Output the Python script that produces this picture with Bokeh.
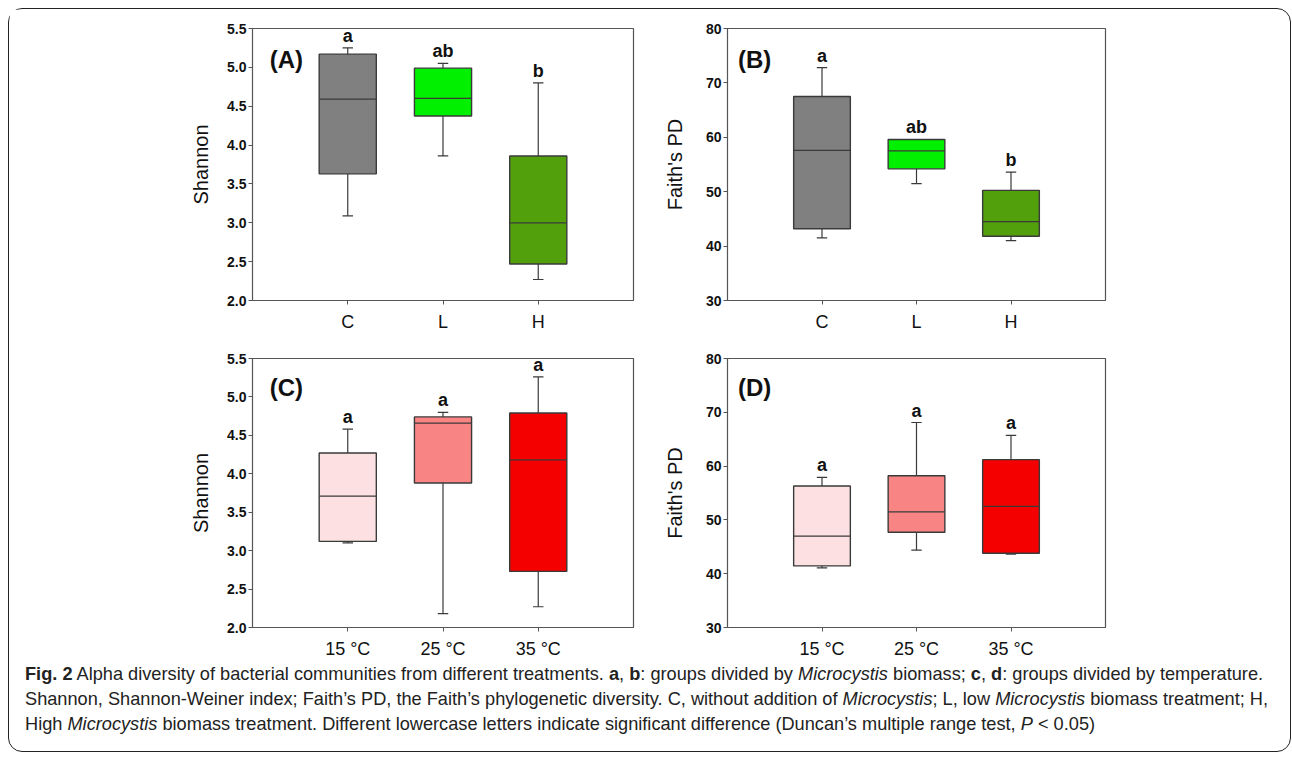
import numpy as np
from bokeh.plotting import figure
from bokeh.models import Range1d, FixedTicker, NumeralTickFormatter, Label, Div
from bokeh.layouts import row, column
from bokeh.embed import file_html
from bokeh.resources import INLINE
from bokeh.core.properties import value

# ---------------- data ----------------
biomass_groups = ["C", "L", "H"]
temp_groups = ["15 \u00b0C", "25 \u00b0C", "35 \u00b0C"]
biomass_colors = ["#808080", "#00f000", "#52a00c"]
temp_colors = ["#fde0e1", "#f98484", "#f50000"]

# (A) Shannon by Microcystis biomass
shan_bio_lo = [3.09, 3.86, 2.27]
shan_bio_q1 = [3.63, 4.375, 2.47]
shan_bio_med = [4.59, 4.60, 3.00]
shan_bio_q3 = [5.17, 4.99, 3.86]
shan_bio_hi = [5.25, 5.05, 4.80]
shan_bio_letters = ["a", "ab", "b"]

# (B) Faith's PD by Microcystis biomass
pd_bio_lo = [41.5, 51.5, 41.0]
pd_bio_q1 = [43.2, 54.2, 41.8]
pd_bio_med = [57.6, 57.5, 44.5]
pd_bio_q3 = [67.5, 59.6, 50.25]
pd_bio_hi = [72.8, 59.6, 53.6]
pd_bio_letters = ["a", "ab", "b"]

# (C) Shannon by temperature
shan_tmp_lo = [3.10, 2.18, 2.27]
shan_tmp_q1 = [3.12, 3.88, 2.73]
shan_tmp_med = [3.71, 4.66, 4.18]
shan_tmp_q3 = [4.27, 4.74, 4.79]
shan_tmp_hi = [4.58, 4.80, 5.26]
shan_tmp_letters = ["a", "a", "a"]

# (D) Faith's PD by temperature
pd_tmp_lo = [41.1, 44.4, 43.65]
pd_tmp_q1 = [41.45, 47.7, 43.8]
pd_tmp_med = [47.0, 51.5, 52.5]
pd_tmp_q3 = [56.3, 58.2, 61.2]
pd_tmp_hi = [57.9, 68.1, 65.7]
pd_tmp_letters = ["a", "a", "a"]

FONT = "Liberation Sans"
EDGE = "#3a3a3a"


def make_panel(groups, colors, lo, q1, med, q3, hi, letters, ylabel, tag,
               y0, y1, step, fmt, tag_x, tag_y, width, height,
               bl, br, bt, bb, label_standoff):
    n = len(groups)
    xs = np.arange(1, n + 1)
    p = figure(width=width, height=height, output_backend="svg",
               toolbar_location=None, x_range=Range1d(0, n + 1),
               y_range=Range1d(y0, y1), min_border_left=bl,
               min_border_right=br, min_border_top=bt, min_border_bottom=bb)
    p.background_fill_color = "white"
    p.border_fill_color = "white"
    p.outline_line_color = "#555555"
    p.outline_line_width = 1.2
    p.xgrid.visible = False
    p.ygrid.visible = False

    bw = 0.6
    cap = 0.11
    lo = np.array(lo); q1 = np.array(q1); med = np.array(med)
    q3 = np.array(q3); hi = np.array(hi)
    # whiskers
    p.segment(xs, q3, xs, hi, line_color=EDGE, line_width=1.2)
    p.segment(xs, lo, xs, q1, line_color=EDGE, line_width=1.2)
    p.segment(xs - cap / 2, hi, xs + cap / 2, hi, line_color=EDGE, line_width=1.2)
    p.segment(xs - cap / 2, lo, xs + cap / 2, lo, line_color=EDGE, line_width=1.2)
    # boxes
    p.vbar(x=xs, width=bw, bottom=q1, top=q3, fill_color=colors,
           line_color=EDGE, line_width=1.4)
    p.segment(xs - bw / 2, med, xs + bw / 2, med, line_color=EDGE, line_width=1.2)
    # significance letters
    p.text(x=xs, y=hi, text=letters, text_align="center",
           text_baseline="bottom", y_offset=-2, text_font_size="18px",
           text_font_style="bold", text_color="#111111", text_font=value(FONT))
    p.add_layout(Label(x=tag_x, y=tag_y, text=tag, text_font_size="24px",
                       text_font_style="bold", text_baseline="middle",
                       text_align="left", text_color="#111111", text_font=FONT))

    p.xaxis.ticker = FixedTicker(ticks=list(xs))
    p.xaxis.major_label_overrides = {int(x): g for x, g in zip(xs, groups)}
    p.yaxis.ticker = FixedTicker(ticks=list(np.arange(y0, y1 + step / 2, step)))
    p.yaxis.formatter = NumeralTickFormatter(format=fmt)
    for ax in (p.xaxis, p.yaxis):
        ax.axis_line_color = "#555555"
        ax.major_tick_line_color = "#555555"
        ax.major_tick_in = 0
        ax.major_tick_out = 4
        ax.minor_tick_line_color = None
    p.xaxis.major_label_text_font = FONT
    p.xaxis.major_label_text_font_size = "18px"
    p.xaxis.major_label_text_color = "#111111"
    p.xaxis.major_label_standoff = 7
    p.yaxis.major_label_text_font = FONT
    p.yaxis.major_label_text_font_size = "14px"
    p.yaxis.major_label_text_font_style = "bold"
    p.yaxis.major_label_text_color = "#111111"
    p.yaxis.major_label_standoff = 2
    p.yaxis.axis_label = ylabel
    p.yaxis.axis_label_text_font = FONT
    p.yaxis.axis_label_text_font_size = "20px"
    p.yaxis.axis_label_text_font_style = "normal"
    p.yaxis.axis_label_text_color = "#111111"
    p.yaxis.axis_label_standoff = label_standoff
    return p


pA = make_panel(biomass_groups, biomass_colors, shan_bio_lo, shan_bio_q1,
                shan_bio_med, shan_bio_q3, shan_bio_hi, shan_bio_letters,
                "Shannon", "(A)", 2.0, 5.5, 0.5, "0.0", 0.18, 5.1,
                644, 331, 243, 20, 19, 40, 12)
pB = make_panel(biomass_groups, biomass_colors, pd_bio_lo, pd_bio_q1,
                pd_bio_med, pd_bio_q3, pd_bio_hi, pd_bio_letters,
                "Faith's PD", "(B)", 30, 80, 10, "0", 0.11, 74.3,
                462, 331, 74, 10, 19, 40, 17)
pC = make_panel(temp_groups, temp_colors, shan_tmp_lo, shan_tmp_q1,
                shan_tmp_med, shan_tmp_q3, shan_tmp_hi, shan_tmp_letters,
                "Shannon", "(C)", 2.0, 5.5, 0.5, "0.0", 0.18, 5.125,
                644, 321, 243, 20, 18, 32, 12)
pD = make_panel(temp_groups, temp_colors, pd_tmp_lo, pd_tmp_q1,
                pd_tmp_med, pd_tmp_q3, pd_tmp_hi, pd_tmp_letters,
                "Faith's PD", "(D)", 30, 80, 10, "0", 0.11, 74.65,
                462, 321, 74, 10, 18, 32, 17)

caption_html = (
    "<b>Fig. 2</b> Alpha diversity of bacterial communities from different treatments. "
    "<b>a</b>, <b>b</b>: groups divided by <i>Microcystis</i> biomass; <b>c</b>, <b>d</b>: "
    "groups divided by temperature.<br>"
    "Shannon, Shannon-Weiner index; Faith\u2019s PD, the Faith\u2019s phylogenetic diversity. "
    "C, without addition of <i>Microcystis</i>; L, low <i>Microcystis</i> biomass treatment; H,<br>"
    "High <i>Microcystis</i> biomass treatment. Different lowercase letters indicate significant "
    "difference (Duncan\u2019s multiple range test, <i>P</i> &lt; 0.05)"
)
cap = Div(text=caption_html, width=1270, height=80,
          styles={"font-family": "Liberation Sans", "font-size": "18.2px",
                  "line-height": "25px", "white-space": "nowrap",
                  "color": "#222222", "padding-left": "11px",
                  "position": "relative", "top": "-4px"})

layout = column(row(pA, pB), row(pC, pD), cap,
                styles={"border": "1px solid #222222", "border-radius": "14px",
                        "width": "1283px", "background-color": "white",
                        "margin": "8px"})

open("out.html", "w").write(file_html(layout, INLINE))
